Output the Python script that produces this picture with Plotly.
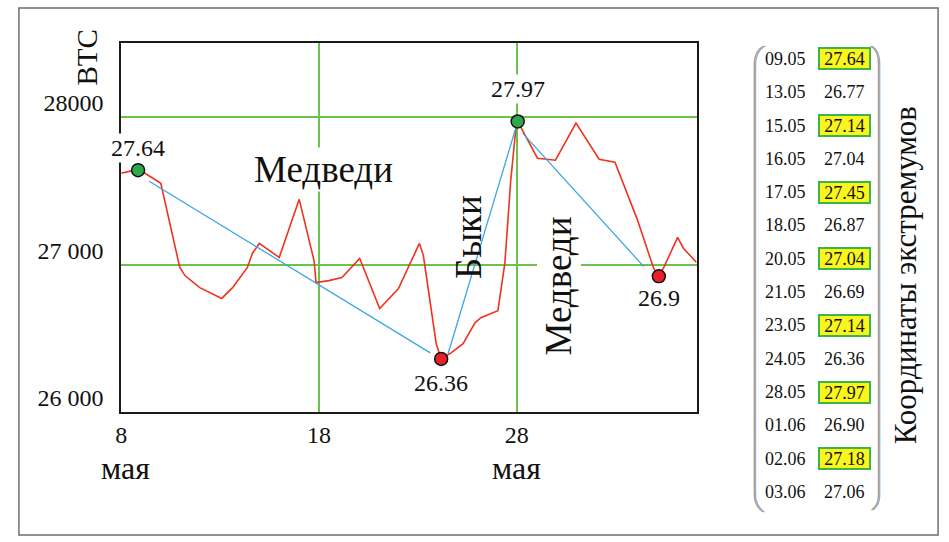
import plotly.graph_objects as go

W, H = 949, 542

# ---- data (days of May on x; BTC price on y) ----
red_x = [8.0, 8.45, 8.85, 9.2, 10.0, 10.96, 11.22, 11.97, 13.08, 13.63, 14.38, 14.63, 14.98,
         15.99, 17.0, 17.75, 17.85, 18.5, 19.16, 20.06, 21.07, 22.02, 23.08, 23.28, 23.93,
         24.18, 24.68, 25.29, 25.89, 26.19, 27.05, 27.4, 27.7, 27.95, 28.05, 28.2, 29.05,
         29.96, 31.0, 32.17, 32.97, 34.08, 34.93, 35.19, 35.44, 36.14, 36.44, 37.1]
red_y = [27619, 27633, 27640, 27619, 27551, 26980, 26925, 26843, 26770, 26843, 26980, 27075, 27143,
         27048, 27442, 27027, 26878, 26891, 26912, 27041, 26701, 26837, 27143, 27061, 26463,
         26360, 26401, 26463, 26605, 26639, 26687, 27007, 27571, 27912, 27970, 27932, 27721,
         27707, 27959, 27714, 27694, 27313, 26973, 26920, 26980, 27184, 27109, 27014]

blue_x = [9.41, 23.63, None, 24.53, 28.0, None, 28.3, 34.43]
blue_y = [27565, 26401, None, 26395, 27946, None, 27891, 26986]

ext_x = [8.85, 24.18, 28.05, 35.19]
ext_y = [27640, 26360, 27970, 26920]
ext_labels = ["27.64", "26.36", "27.97", "26.9"]
ext_colors = ["#2ea84a", "#e8202a", "#2ea84a", "#e8202a"]
ext_shift = [22, -24, 32, -22]

x_ticks = [8, 18, 28]
x_ticktext = ["8", "18", "28"]
y_ticks = [26000, 27000, 28000]
y_ticktext = ["26 000", "27 000", "28000"]

tbl_dates = ["09.05", "13.05", "15.05", "16.05", "17.05", "18.05", "20.05",
             "21.05", "23.05", "24.05", "28.05", "01.06", "02.06", "03.06"]
tbl_values = [27.64, 26.77, 27.14, 27.04, 27.45, 26.87, 27.04,
              26.69, 27.14, 26.36, 27.97, 26.90, 27.18, 27.06]
tbl_highlight = [True, False, True, False, True, False, True,
                 False, True, False, True, False, True, False]

SERIF = "Liberation Serif, Times New Roman, serif"


def px(x):
    return x / W


def py(y):
    return 1 - y / H


def txt(x, y, text, size, **kw):
    d = dict(x=px(x), y=py(y), xref="paper", yref="paper", text=text, showarrow=False,
             xanchor="center", yanchor="middle",
             font=dict(family=SERIF, size=size, color="#111"))
    d.update(kw)
    return d


fig = go.Figure()
fig.add_trace(go.Scatter(x=red_x, y=red_y, mode="lines",
                         line=dict(color="#f0321e", width=1.6), showlegend=False))
fig.add_trace(go.Scatter(x=blue_x, y=blue_y, mode="lines",
                         line=dict(color="#3ca6e6", width=1.3), showlegend=False,
                         connectgaps=False))
fig.add_trace(go.Scatter(x=ext_x, y=ext_y, mode="markers",
                         marker=dict(size=13, color=ext_colors,
                                     line=dict(color="#111", width=1.5)),
                         showlegend=False))

annotations = []
for xv, yv, t, s in zip(ext_x, ext_y, ext_labels, ext_shift):
    annotations.append(dict(x=xv, y=yv, xref="x", yref="y", text=t, showarrow=False,
                            yshift=s, bgcolor="white", xanchor="center", yanchor="middle",
                            font=dict(family=SERIF, size=24, color="#111")))

# "мая" under the x tick labels
for xv, dx in [(8, 4), (28, 0)]:
    annotations.append(dict(x=xv, y=py(468), xref="x", yref="paper", text="мая",
                            xshift=dx, showarrow=False, xanchor="center", yanchor="middle",
                            font=dict(family=SERIF, size=32, color="#111")))

# Chart texts
annotations.append(txt(320, 169, "Медведи", 37, bgcolor="white"))
annotations.append(txt(466, 237, "Быки", 37, textangle=-90))
annotations.append(txt(556, 286, "Медведи", 37, textangle=-90, bgcolor="white"))
annotations.append(txt(82, 57, "BTC", 29, textangle=-90))

# Table
for i, (d, v, hl) in enumerate(zip(tbl_dates, tbl_values, tbl_highlight)):
    yy = 59 + i * 33.3
    annotations.append(txt(784.5, yy, d, 18))
    a = txt(843.5, yy, f"{v:.2f}", 18)
    if hl:
        a.update(bgcolor="#fbf51e", bordercolor="#3cb44b", borderwidth=2,
                 borderpad=0, width=49, height=19)
    annotations.append(a)

annotations.append(txt(905, 275, "Координаты экстремумов", 31, textangle=-90))


def bracket_path(pts):
    s = ""
    for cmd, coords in pts:
        s += cmd + " " + " ".join(f"{px(x):.5f},{py(y):.5f}" for x, y in coords) + " "
    return s.strip()


shapes = []
for off, col in [(0, "#c98f5c"), (1.3, "#7ab4e6")]:
    left = bracket_path([("M", [(763 + off, 46)]), ("Q", [(753 + off, 50), (753 + off, 66)]),
                         ("L", [(753 + off, 494)]), ("Q", [(753 + off, 506), (762 + off, 512)])])
    right = bracket_path([("M", [(870 + off, 46)]), ("Q", [(878 + off, 50), (878 + off, 64)]),
                          ("L", [(878 + off, 496)]), ("Q", [(878 + off, 505), (871 + off, 510)])])
    for p in (left, right):
        shapes.append(dict(type="path", path=p, xref="paper", yref="paper",
                           line=dict(color=col, width=1.3)))

shapes.append(dict(type="rect", xref="paper", yref="paper", x0=px(13), x1=px(938),
                   y0=py(535), y1=py(8), line=dict(color="#6e6e6e", width=1.5)))

GRID = "#6cc24a"
fig.update_layout(
    width=W, height=H,
    margin=dict(l=0, r=0, t=0, b=0),
    paper_bgcolor="white", plot_bgcolor="white",
    xaxis=dict(domain=[px(116), px(695)], range=[8, 37.1],
               tickvals=x_ticks, ticktext=x_ticktext, ticks="",
               showgrid=True, gridcolor=GRID, gridwidth=2, zeroline=False,
               showline=True, linecolor="#1a1a1a", linewidth=2, mirror=True,
               tickfont=dict(family=SERIF, size=24, color="#111"),
               ticklabelstandoff=0),
    yaxis=dict(domain=[1 - 412 / H, 1 - 43 / H], range=[26000, 28502],
               tickvals=y_ticks, ticktext=y_ticktext, ticks="",
               showgrid=True, gridcolor=GRID, gridwidth=2, zeroline=False,
               showline=True, linecolor="#1a1a1a", linewidth=2, mirror=True,
               tickfont=dict(family=SERIF, size=24, color="#111"),
               ticklabelshift=-14, ticklabelstandoff=11),
    annotations=annotations,
    shapes=shapes,
)

fig.write_html("out.html", config={"displayModeBar": False},
               post_script="document.body.style.margin='0px';")
